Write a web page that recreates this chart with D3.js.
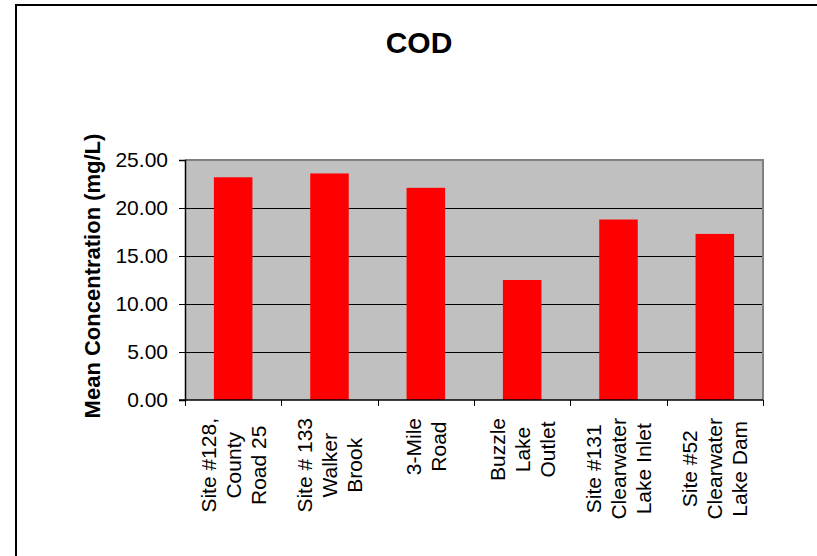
<!DOCTYPE html>
<html>
<head>
<meta charset="utf-8">
<script src="https://cdn.jsdelivr.net/npm/d3@7"></script>
<style>
  html, body { margin: 0; padding: 0; background: #fff; }
  svg { display: block; font-family: "Liberation Sans", Arial, sans-serif; }
</style>
</head>
<body>
<svg id="chart" width="817" height="556"></svg>
<script>
// Sampling sites (each label wraps onto several lines)
const sites = [
  ["Site #128,", "County", "Road 25"],
  ["Site # 133", "Walker", "Brook"],
  ["3-Mile", "Road"],
  ["Buzzle", "Lake", "Outlet"],
  ["Site #131", "Clearwater", "Lake Inlet"],
  ["Site #52", "Clearwater", "Lake Dam"]
];
const siteKeys = sites.map(s => s.join(" "));
// Mean COD concentration per site (mg/L)
const meanCOD = [23.2, 23.6, 22.1, 12.5, 18.8, 17.3];
const yTicks = [0, 5, 10, 15, 20, 25];

const svg = d3.select("#chart");
const plot = { left: 185, top: 160, right: 763, bottom: 400 };

// Outer chart frame
svg.append("rect")
  .attr("x", 16).attr("y", 5)
  .attr("width", 830).attr("height", 600)
  .attr("fill", "#fff").attr("stroke", "#000").attr("stroke-width", 2);

const x = d3.scaleBand()
  .domain(siteKeys)
  .range([plot.left, plot.right])
  .paddingInner(0.6)
  .paddingOuter(0.3);

const y = d3.scaleLinear()
  .domain([0, 25])
  .range([plot.bottom, plot.top]);

// Plot area background
svg.append("rect")
  .attr("x", plot.left).attr("y", plot.top)
  .attr("width", plot.right - plot.left).attr("height", plot.bottom - plot.top)
  .attr("fill", "#c0c0c0");

// Horizontal gridlines
svg.append("g")
  .selectAll("line")
  .data(yTicks.filter(t => t > 0 && t < 25))
  .join("line")
  .attr("x1", plot.left).attr("x2", plot.right)
  .attr("y1", d => Math.round(y(d)) + 0.5).attr("y2", d => Math.round(y(d)) + 0.5)
  .attr("stroke", "#000").attr("stroke-width", 1);

// Plot border (top and right edges in grey)
svg.append("path")
  .attr("d", `M${plot.left},${plot.top}H${plot.right}V${plot.bottom}`)
  .attr("fill", "none").attr("stroke", "#808080").attr("stroke-width", 2);

// Bars
svg.append("g")
  .selectAll("rect")
  .data(meanCOD)
  .join("rect")
  .attr("x", (d, i) => x(siteKeys[i]))
  .attr("y", d => y(d))
  .attr("width", x.bandwidth())
  .attr("height", d => y(0) - y(d))
  .attr("fill", "#ff0000");

// Y axis
const yAxis = svg.append("g")
  .attr("transform", `translate(${plot.left},0)`)
  .call(d3.axisLeft(y).tickValues(yTicks).tickSize(6).tickPadding(11).tickFormat(d3.format(".2f")));
yAxis.select(".domain").attr("stroke", "#000").attr("stroke-width", 1.5);
yAxis.selectAll(".tick line").attr("stroke", "#000");
yAxis.selectAll(".tick text")
  .attr("fill", "#000")
  .style("font-size", "21px")
  .style("font-family", "'Liberation Sans', Arial, sans-serif");

// X axis baseline with ticks at category boundaries
const step = x.step();
const boundaries = d3.range(siteKeys.length + 1).map(i =>
  i < siteKeys.length ? x(siteKeys[i]) - step * x.paddingInner() / 2 : plot.right);
svg.append("line")
  .attr("x1", plot.left - 6).attr("x2", plot.right)
  .attr("y1", plot.bottom).attr("y2", plot.bottom)
  .attr("stroke", "#000").attr("stroke-width", 1.5);
svg.append("g")
  .selectAll("line")
  .data(boundaries)
  .join("line")
  .attr("x1", d => Math.round(d) + 0.5).attr("x2", d => Math.round(d) + 0.5)
  .attr("y1", plot.bottom).attr("y2", plot.bottom + 6)
  .attr("stroke", "#000");

// Rotated, wrapped category labels
const labelFont = 21, lineH = 25, labelTop = 418;
sites.forEach((lines, i) => {
  const cx = x(siteKeys[i]) + x.bandwidth() / 2;
  const g = svg.append("g");
  const texts = g.selectAll("text")
    .data(lines)
    .join("text")
    .style("font-size", labelFont + "px")
    .attr("fill", "#000")
    .attr("text-anchor", "middle")
    .text(d => d);
  const maxLen = d3.max(texts.nodes(), n => n.getComputedTextLength());
  g.attr("transform", `translate(${cx},${labelTop}) rotate(-90)`);
  texts
    .attr("x", -maxLen / 2)
    .attr("y", (d, j) => (j - (lines.length - 1) / 2) * lineH + labelFont * 0.36);
});

// Y axis title
svg.append("text")
  .attr("transform", `translate(100,276) rotate(-90)`)
  .attr("text-anchor", "middle")
  .style("font-size", "22px")
  .style("font-weight", "bold")
  .text("Mean Concentration (mg/L)");

// Chart title
svg.append("text")
  .attr("x", 419).attr("y", 53)
  .attr("text-anchor", "middle")
  .style("font-size", "30px")
  .style("font-weight", "bold")
  .text("COD");
</script>
</body>
</html>
